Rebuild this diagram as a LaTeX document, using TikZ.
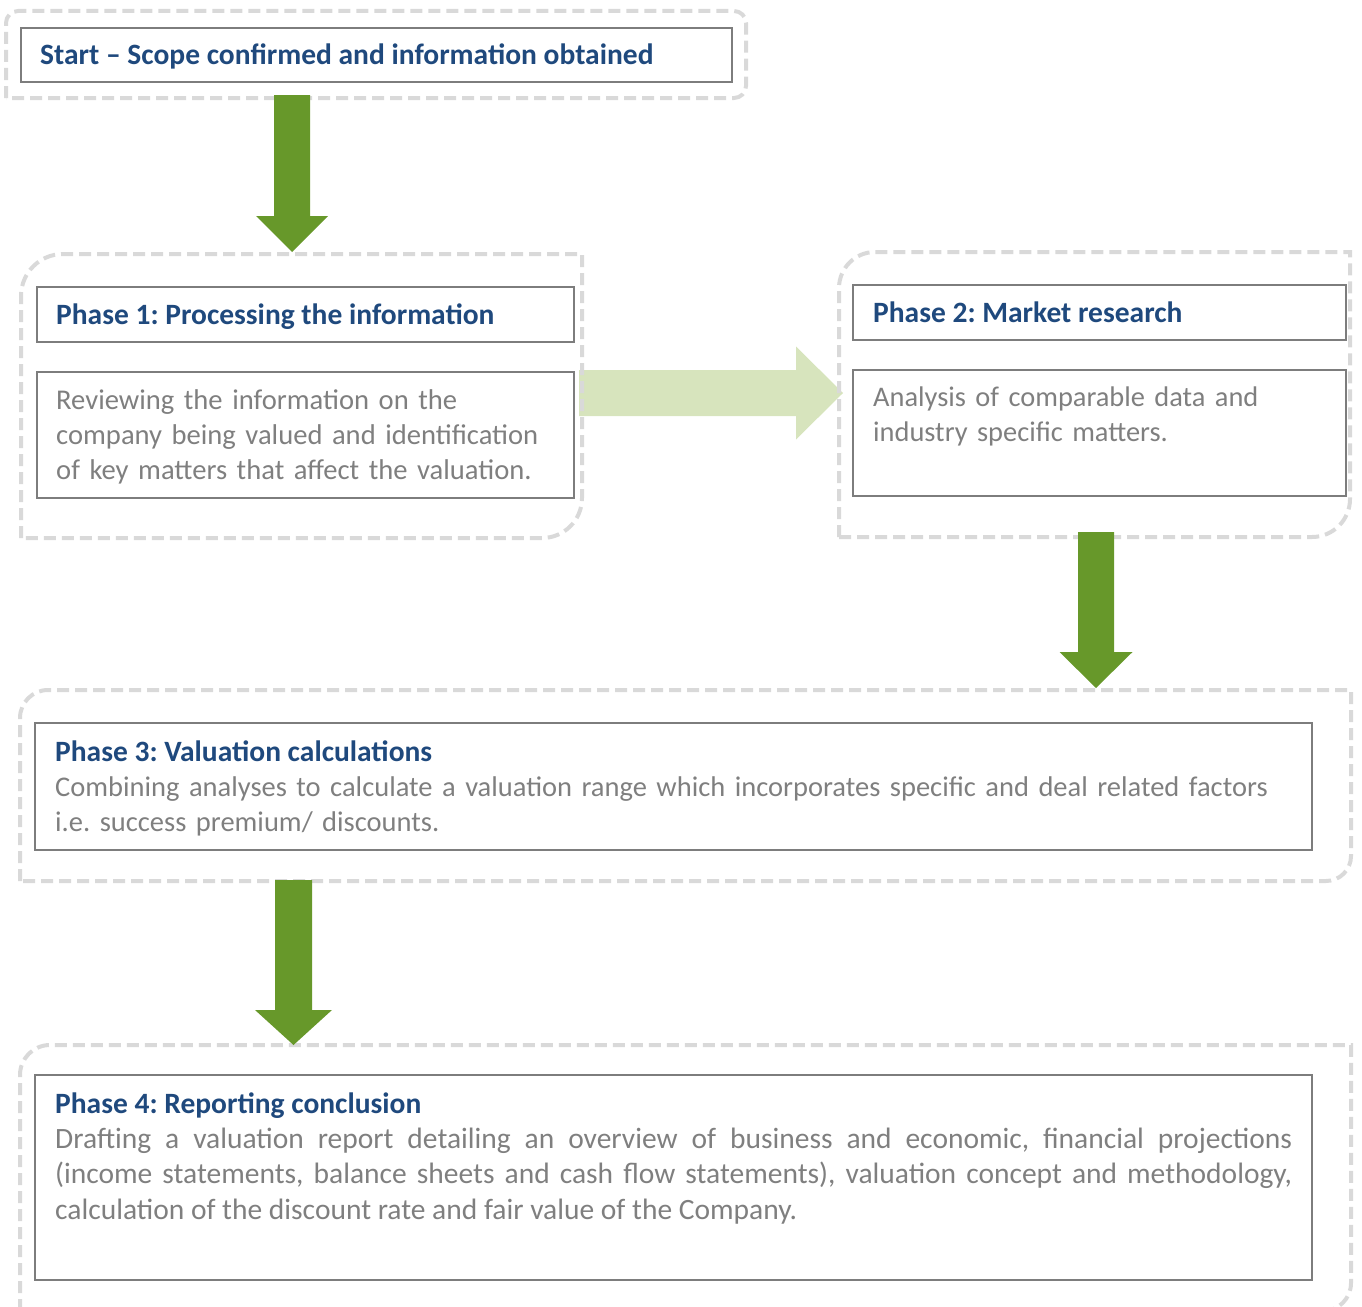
\documentclass[tikz,border=0pt]{standalone}
\usepackage{fontspec}
\setmainfont{Carlito}
\usetikzlibrary{calc}
\frenchspacing

\definecolor{titleblue}{RGB}{31,73,125}
\definecolor{bodygray}{RGB}{127,127,127}
\definecolor{boxgray}{RGB}{125,125,125}
\definecolor{framegray}{RGB}{217,217,217}
\definecolor{flowgreen}{RGB}{103,152,42}
\definecolor{palegreen}{RGB}{215,228,189}

\tikzset{
  region/.style={rectangle, inner sep=0pt, outer sep=0pt, anchor=north west},
  frameline/.style={draw=framegray, line width=4pt, dash pattern=on 12pt off 6pt},
  panel/.style={rectangle, draw=boxgray, line width=2pt, inner sep=0pt, outer sep=0pt, anchor=north west},
  heading/.style={anchor=base west, inner sep=0pt, font=\bfseries\fontsize{29.5}{35.4}\selectfont, text=titleblue},
  bodytext/.style={anchor=base west, inner sep=0pt, font=\fontsize{#1}{35.4}\selectfont, text=bodygray, align=left},
  bodytext/.default=28.6,
  stepflow/.style={fill=flowgreen},
  sideflow/.style={fill=palegreen},
}

% dashed frame with rounded top-left and bottom-right corners
\newcommand\diagframe[3]{%
  \draw[frameline] (#1.south west) -- ([yshift=-#2pt]#1.north west)
    arc[start angle=180, end angle=90, radius=#2pt] -- (#1.north east)
    -- ([yshift=#3pt]#1.south east)
    arc[start angle=0, end angle=-90, radius=#3pt] -- cycle;}

% block arrow pointing down: top, tip, shaft half width, head half width, head length
\newcommand\downflow[5]{%
  \fill[stepflow] ($(#1)+(-#3,0)$) -- ($(#2)+(-#3,#5)$) -- ($(#2)+(-#4,#5)$)
    -- (#2) -- ($(#2)+(#4,#5)$) -- ($(#2)+(#3,#5)$) -- ($(#1)+(#3,0)$) -- cycle;}

% block arrow pointing right: tail, tip, shaft half height, head half height, head length
\newcommand\rightflow[5]{%
  \fill[sideflow] ($(#1)+(0,#3)$) -- ($(#2)+(-#5,#3)$) -- ($(#2)+(-#5,#4)$)
    -- (#2) -- ($(#2)+(-#5,-#4)$) -- ($(#2)+(-#5,-#3)$) -- ($(#1)+(0,-#3)$) -- cycle;}

\begin{document}
\begin{tikzpicture}[x=1pt, y=1pt]
  \useasboundingbox (0,0) rectangle (1362,-1306);
  \clip (0,0) rectangle (1362,-1306);

  % outer regions
  \node[region, minimum width=740, minimum height=87] (startouter) at (6,-11) {};
  \node[region, minimum width=561, minimum height=284] (p1outer) at (21,-254) {};
  \node[region, minimum width=511, minimum height=285] (p2outer) at (839,-252) {};
  \node[region, minimum width=1331, minimum height=191] (p3outer) at (20,-690) {};
  \node[region, minimum width=1331, minimum height=266] (p4outer) at (20,-1045) {};

  % link from phase 1 to phase 2 (under the frames)
  \coordinate (sidetail) at (579,-393);
  \coordinate (sidetip) at (843,-393);
  \rightflow{sidetail}{sidetip}{23}{46.5}{47}

  % start frame: three rounded corners
  \draw[frameline] (startouter.south west) -- ([yshift=-12pt]startouter.north west)
    arc[start angle=180, end angle=90, radius=12pt]
    -- ([xshift=-12pt]startouter.north east)
    arc[start angle=90, end angle=0, radius=12pt]
    -- ([yshift=12pt]startouter.south east)
    arc[start angle=0, end angle=-90, radius=12pt] -- cycle;
  \diagframe{p1outer}{42}{40}
  \diagframe{p2outer}{36}{38}
  \diagframe{p3outer}{28}{25}
  \diagframe{p4outer}{30}{28}

  % panels
  \node[panel, minimum width=711, minimum height=54] (startbox) at (21,-28) {};
  \node[panel, minimum width=537, minimum height=55] (p1head) at (37,-287) {};
  \node[panel, minimum width=537, minimum height=126] (p1body) at (37,-372) {};
  \node[panel, minimum width=493, minimum height=55] (p2head) at (853,-285) {};
  \node[panel, minimum width=493, minimum height=126] (p2body) at (853,-370) {};
  \node[panel, minimum width=1277, minimum height=127] (p3box) at (35,-723) {};
  \node[panel, minimum width=1277, minimum height=205] (p4box) at (35,-1075) {};

  % downward links
  \coordinate (d1top) at (292,-95);
  \coordinate (d1tip) at (292,-252);
  \downflow{d1top}{d1tip}{18}{36}{36}
  \coordinate (d2top) at (1096,-532);
  \coordinate (d2tip) at (1096,-688);
  \downflow{d2top}{d2tip}{18}{36.5}{36}
  \coordinate (d3top) at (293.5,-880);
  \coordinate (d3tip) at (293.5,-1045);
  \downflow{d3top}{d3tip}{18.5}{38.5}{35}

  % texts
  \node[heading] (starttext) at (40,-65) {Start – Scope confirmed and information obtained};

  \node[heading] (p1title) at (56,-324) {Phase 1: Processing the information};
  \node[bodytext=28.6, text width=515] (p1text) at (56,-409)
    {Reviewing the information on the\\
     company being valued and identification\\
     of key matters that affect the valuation.};

  \node[heading] (p2title) at (873,-322) {Phase 2: Market research};
  \node[bodytext=28.4, text width=470] (p2text) at (873,-406)
    {Analysis of comparable data and\\
     industry specific matters.};

  \node[heading] (p3title) at (55,-761) {Phase 3: Valuation calculations};
  \node[bodytext=28.5, text width=1250] (p3text) at (55,-796.5)
    {Combining analyses to calculate a valuation range which incorporates specific and deal related factors\\
     i.e. success premium/ discounts.};

  \node[heading] (p4title) at (55,-1113) {Phase 4: Reporting conclusion};
  \node[bodytext=29.5, text width=1237, align=justify] (p4text) at (55,-1148.5)
    {\hyphenpenalty=10000 Drafting a valuation report detailing an overview of business and economic, financial projections\linebreak
     (income statements, balance sheets and cash flow statements), valuation concept and methodology,\linebreak
     calculation of the discount rate and fair value of the Company.};
\end{tikzpicture}
\end{document}
